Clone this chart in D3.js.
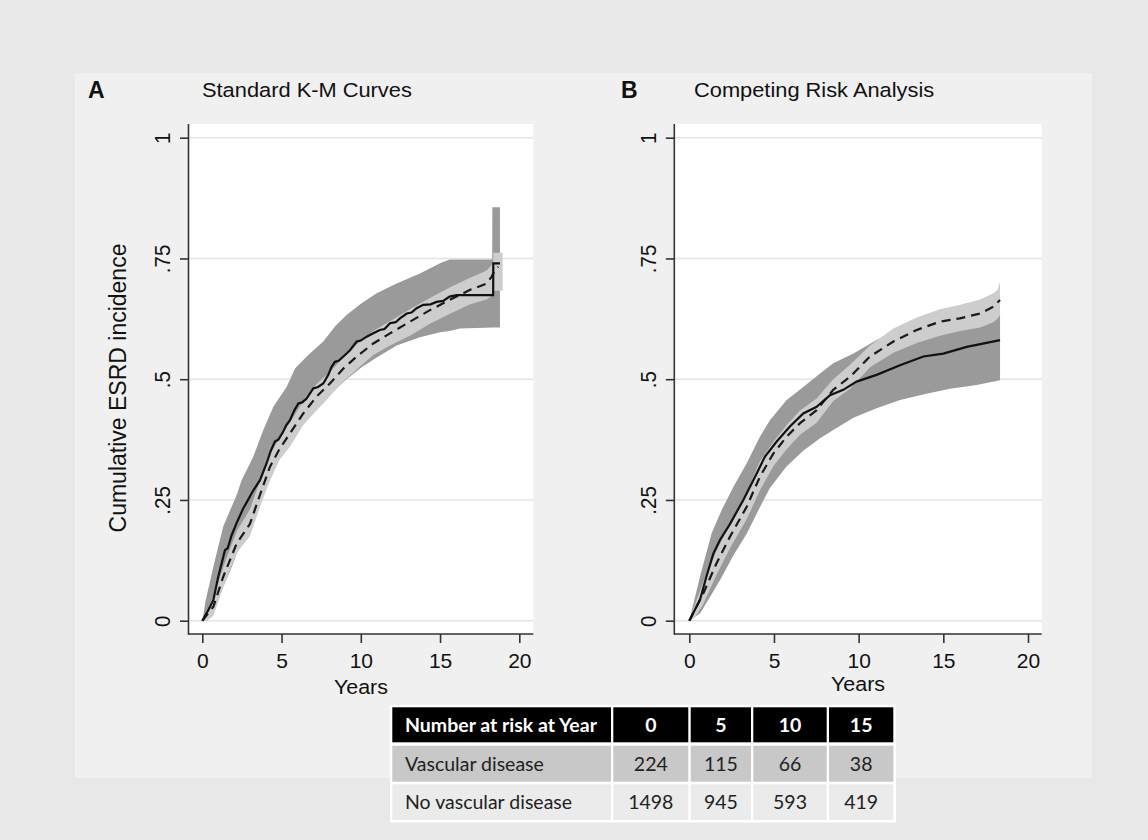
<!DOCTYPE html>
<html><head><meta charset="utf-8">
<script src="https://cdn.jsdelivr.net/npm/d3@7"></script>
<style>html,body{margin:0;padding:0;background:#e8e8e8;}svg{display:block;}</style>
</head><body>
<svg id="chart" width="1148" height="840"></svg>
<script>
// ---------- DATA ----------
const xTicks = [0, 5, 10, 15, 20];
const yTicks = [0, 0.25, 0.5, 0.75, 1];
const yTickLabels = ["0", ".25", ".5", ".75", "1"];
const panelLetters = ["A", "B"];
const panelTitles = ["Standard K-M Curves", "Competing Risk Analysis"];
const xTitle = "Years";
const yTitle = "Cumulative ESRD incidence";

// Panel A: Kaplan-Meier, vascular disease (solid) [t, value]
const aVascular = [[0,0],[0.35,0.02],[0.7,0.043],[1.0,0.09],[1.43,0.146],[1.6,0.15],[1.85,0.177],[2.2,0.205],[2.59,0.233],[2.8,0.245],[3.22,0.27],[3.64,0.291],[4.06,0.326],[4.3,0.35],[4.58,0.371],[4.8,0.375],[5.1,0.391],[5.3,0.405],[5.53,0.415],[5.8,0.435],[6.06,0.45],[6.3,0.452],[6.58,0.46],[7.0,0.481],[7.3,0.484],[7.63,0.491],[7.95,0.509],[8.15,0.525],[8.37,0.536],[8.6,0.538],[8.9,0.547],[9.32,0.56],[9.74,0.578],[10.0,0.58],[10.37,0.588],[10.79,0.595],[11.2,0.602],[11.5,0.604],[11.84,0.616],[12.2,0.618],[12.47,0.626],[12.9,0.636],[13.2,0.638],[13.52,0.647],[13.94,0.654],[14.4,0.655],[14.78,0.66],[15.2,0.662],[15.6,0.671],[16.05,0.674],[18.35,0.674],[18.36,0.74],[18.78,0.74]];
// Panel A: no vascular disease (dashed)
const aNoVascular = [[0,0],[0.7,0.029],[1.32,0.091],[2.17,0.16],[3.0,0.2],[3.74,0.27],[4.27,0.319],[4.9,0.357],[5.53,0.388],[6.37,0.429],[7.21,0.464],[8.05,0.491],[8.9,0.522],[9.74,0.547],[10.79,0.574],[11.84,0.595],[13.1,0.619],[14.36,0.643],[15.6,0.664],[16.9,0.685],[17.94,0.698],[18.25,0.712],[18.46,0.726],[18.67,0.733]];
// Panel A confidence bands [t, lower, upper]
const aVascularCI = [[0,0,0],[0.2,0.0,0.04],[0.7,0.015,0.112],[1.32,0.07,0.195],[1.85,0.11,0.236],[2.17,0.139,0.26],[2.48,0.16,0.291],[3.0,0.208,0.325],[3.22,0.22,0.34],[3.85,0.27,0.395],[4.48,0.32,0.443],[5.32,0.375,0.484],[5.85,0.395,0.522],[6.37,0.415,0.54],[6.79,0.425,0.553],[7.63,0.45,0.578],[8.37,0.478,0.609],[9.1,0.5,0.633],[10.05,0.525,0.657],[11.0,0.545,0.678],[12.26,0.57,0.698],[13.73,0.587,0.719],[15.0,0.597,0.74],[15.6,0.6,0.748],[16.26,0.605,0.748],[18.29,0.607,0.748],[18.3,0.607,0.856],[18.78,0.607,0.856]];
const aNoVascularCI = [[0,0,0],[0.3,0.0,0.02],[0.7,0.01,0.05],[1.32,0.07,0.11],[2.17,0.14,0.185],[3.0,0.175,0.23],[3.74,0.245,0.3],[4.27,0.29,0.345],[4.9,0.335,0.38],[5.53,0.36,0.41],[6.37,0.405,0.455],[7.21,0.435,0.49],[8.05,0.465,0.515],[8.9,0.495,0.545],[9.74,0.52,0.572],[10.79,0.55,0.6],[11.84,0.57,0.62],[13.1,0.59,0.645],[14.36,0.615,0.668],[15.6,0.635,0.69],[16.9,0.655,0.71],[17.94,0.665,0.725],[18.35,0.675,0.74],[18.36,0.683,0.762],[18.95,0.683,0.762]];

// Panel B: competing risk, vascular disease (solid)
const bVascular = [[0,0],[0.63,0.043],[1.0,0.09],[1.42,0.139],[1.81,0.167],[2.4,0.2],[3.19,0.25],[3.98,0.305],[4.47,0.34],[5.16,0.371],[5.94,0.402],[6.73,0.429],[7.52,0.443],[8.31,0.467],[9.09,0.478],[9.88,0.495],[11.06,0.509],[12.44,0.529],[13.82,0.547],[15.0,0.553],[16.38,0.567],[18.35,0.581]];
// Panel B: no vascular disease (dashed)
const bNoVascular = [[0,0],[0.83,0.057],[1.61,0.119],[2.4,0.174],[3.39,0.236],[4.17,0.298],[4.96,0.346],[5.75,0.381],[6.54,0.409],[7.52,0.436],[8.5,0.478],[9.49,0.505],[10.67,0.547],[12.05,0.578],[13.43,0.602],[14.8,0.619],[15.98,0.626],[17.17,0.636],[17.95,0.65],[18.35,0.664]];
// Panel B confidence bands [t, lower, upper]
const bVascularCI = [[0,0,0],[0.63,0.015,0.091],[1.32,0.055,0.181],[1.91,0.09,0.229],[2.6,0.135,0.277],[3.39,0.18,0.326],[4.17,0.235,0.381],[4.76,0.275,0.415],[5.75,0.32,0.457],[6.73,0.352,0.484],[7.72,0.378,0.512],[8.5,0.395,0.533],[9.69,0.42,0.553],[11.06,0.44,0.581],[12.44,0.457,0.602],[14.0,0.47,0.616],[15.39,0.48,0.622],[16.97,0.488,0.629],[18.35,0.498,0.636]];
const bNoVascularCI = [[0,0,0],[0.4,0.01,0.04],[0.83,0.035,0.08],[1.61,0.095,0.145],[2.4,0.15,0.2],[3.39,0.21,0.265],[4.17,0.27,0.33],[4.96,0.32,0.37],[5.75,0.355,0.405],[6.54,0.385,0.435],[7.52,0.41,0.46],[8.5,0.455,0.5],[9.49,0.48,0.53],[10.67,0.525,0.57],[12.05,0.555,0.605],[13.43,0.575,0.628],[14.8,0.59,0.645],[16.0,0.6,0.654],[17.17,0.607,0.665],[17.95,0.618,0.678],[18.2,0.625,0.685],[18.35,0.633,0.702]];

// Number at risk table
const tableHeader = ["Number at risk at Year", "0", "5", "10", "15"];
const tableRowLabels = ["Vascular disease", "No vascular disease"];
const vascularAtRisk = [224, 115, 66, 38];
const noVascularAtRisk = [1498, 945, 593, 419];

// ---------- DRAWING ----------
const svg = d3.select("#chart");
const FONT = "'Liberation Sans', Arial, Helvetica, sans-serif";
const TFONT = "Lato, 'Open Sans', sans-serif";

svg.append("rect").attr("width",1148).attr("height",840).attr("fill","#e8e8e8");
svg.append("rect").attr("x",75).attr("y",73).attr("width",1017).attr("height",705).attr("fill","#f0f0f0");

const panels = [
  {left:188.5, right:533.3, top:124, bottom:634, x0:202.3, x20:519.3, tickLabelX:170, yTitleX:126,
   letterX:88, titleX:202, yearsY:694,
   series:{vCI:aVascularCI, nCI:aNoVascularCI, v:aVascular, n:aNoVascular}},
  {left:674.3, right:1041.7, top:124, bottom:634, x0:689.3, x20:1028, tickLabelX:656, yTitleX:null,
   letterX:621, titleX:694, yearsY:690.5,
   series:{vCI:bVascularCI, nCI:bNoVascularCI, v:bVascular, n:bNoVascular}}
];

panels.forEach((p, i) => {
  const g = svg.append("g");
  const x = d3.scaleLinear().domain([0,20]).range([p.x0, p.x20]);
  const y = d3.scaleLinear().domain([0,1]).range([620.7, 137.7]);

  // plot region
  g.append("rect").attr("x",p.left).attr("y",p.top).attr("width",p.right-p.left).attr("height",p.bottom-p.top).attr("fill","#ffffff");

  // gridlines
  g.selectAll(".grid").data(yTicks).join("line")
    .attr("x1",p.left+1).attr("x2",p.right).attr("y1",d=>y(d)).attr("y2",d=>y(d))
    .attr("stroke","#e4e4e4").attr("stroke-width",1.6);

  const area = d3.area().x(d=>x(d[0])).y0(d=>y(d[1])).y1(d=>y(d[2])).curve(d3.curveLinear);
  const line = d3.line().x(d=>x(d[0])).y(d=>y(d[1])).curve(d3.curveLinear);

  g.append("path").datum(p.series.vCI).attr("d", area).attr("fill","#9a9a9a");
  g.append("path").datum(p.series.nCI).attr("d", area).attr("fill","#cdcdcd");

  g.append("path").datum(p.series.n).attr("d", line)
    .attr("fill","none").attr("stroke","#1a1a1a").attr("stroke-width",2.2).attr("stroke-dasharray","9,6");
  g.append("path").datum(p.series.v).attr("d", line)
    .attr("fill","none").attr("stroke","#111").attr("stroke-width",2.2).attr("stroke-linejoin","miter");

  // axes
  const yAxis = d3.axisLeft(y).tickValues(yTicks).tickSize(8.5).tickSizeOuter(0)
    .tickFormat((d,k)=>yTickLabels[k]);
  const ya = g.append("g").attr("transform",`translate(${p.left},0)`).call(yAxis);
  ya.select(".domain").remove();
  ya.selectAll(".tick line").attr("stroke","#333").attr("stroke-width",1.6);
  ya.selectAll(".tick text").each(function(){
    d3.select(this).attr("x",null).attr("dy",null).attr("text-anchor","middle")
     .attr("transform",`translate(${p.tickLabelX - p.left},0) scale(1.12,1) rotate(-90)`)
     .attr("font-family",FONT).attr("font-size",20.5).attr("fill","#111");
  });

  const xAxis = d3.axisBottom(x).tickValues(xTicks).tickSize(9).tickSizeOuter(0).tickFormat(d3.format("d"));
  const xa = g.append("g").attr("transform",`translate(0,${p.bottom})`).call(xAxis);
  xa.select(".domain").remove();
  xa.selectAll(".tick line").attr("stroke","#333").attr("stroke-width",1.6);
  xa.selectAll(".tick text").attr("y",34).attr("dy",null).attr("font-family",FONT).attr("font-size",21).attr("fill","#111");

  g.append("line").attr("x1",p.left).attr("x2",p.left).attr("y1",p.top).attr("y2",p.bottom+0.8).attr("stroke","#333").attr("stroke-width",1.6);
  g.append("line").attr("x1",p.left).attr("x2",p.right).attr("y1",p.bottom).attr("y2",p.bottom).attr("stroke","#333").attr("stroke-width",1.6);

  // axis titles
  g.append("text").attr("transform",`translate(${(p.left+p.right)/2},${p.yearsY}) scale(1.1,1)`)
    .attr("text-anchor","middle").attr("font-family",FONT).attr("font-size",19.5).attr("fill","#111").text(xTitle);
  if (p.yTitleX !== null) {
    g.append("text").attr("transform",`translate(${p.yTitleX},388) rotate(-90)`)
      .attr("text-anchor","middle").attr("font-family",FONT).attr("font-size",23).attr("fill","#111").text(yTitle);
  }

  // panel letter and title
  g.append("text").attr("x",p.letterX).attr("y",98).attr("font-family",FONT).attr("font-weight","bold")
    .attr("font-size",23).attr("fill","#111").text(panelLetters[i]);
  g.append("text").attr("transform",`translate(${p.titleX},96.5) scale(1.12,1)`)
    .attr("font-family",FONT).attr("font-size",19.5).attr("fill","#111").text(panelTitles[i]);
});

// ---------- TABLE ----------
const colEdges = [[392.3,611],[613.3,688.3],[690.7,751],[753.3,826.7],[829,893.3]];
const rowEdges = [[707.3,742.3],[745.7,781.7],[784.3,820]];
const rowFills = ["#000000","#c8c8c8","#ebebeb"];
const tg = svg.append("g");
tg.append("rect").attr("x",390).attr("y",705).attr("width",506).attr("height",117.7).attr("fill","#ffffff");
const tableRows = [tableHeader,
  [tableRowLabels[0], ...vascularAtRisk.map(String)],
  [tableRowLabels[1], ...noVascularAtRisk.map(String)]];
tableRows.forEach((row, r) => {
  row.forEach((cell, c) => {
    const [x0,x1] = colEdges[c], [y0,y1] = rowEdges[r];
    tg.append("rect").attr("x",x0).attr("y",y0).attr("width",x1-x0).attr("height",y1-y0).attr("fill",rowFills[r]);
    tg.append("text")
      .attr("x", c===0 ? x0+12.7 : (x0+x1)/2)
      .attr("y", (y0+y1)/2 + 7)
      .attr("text-anchor", c===0 ? "start" : "middle")
      .attr("font-family",TFONT).attr("font-size",19.5)
      .attr("font-weight", r===0 ? "bold" : "normal")
      .attr("fill", r===0 ? "#ffffff" : "#222")
      .text(cell);
  });
});
</script>
</body></html>
